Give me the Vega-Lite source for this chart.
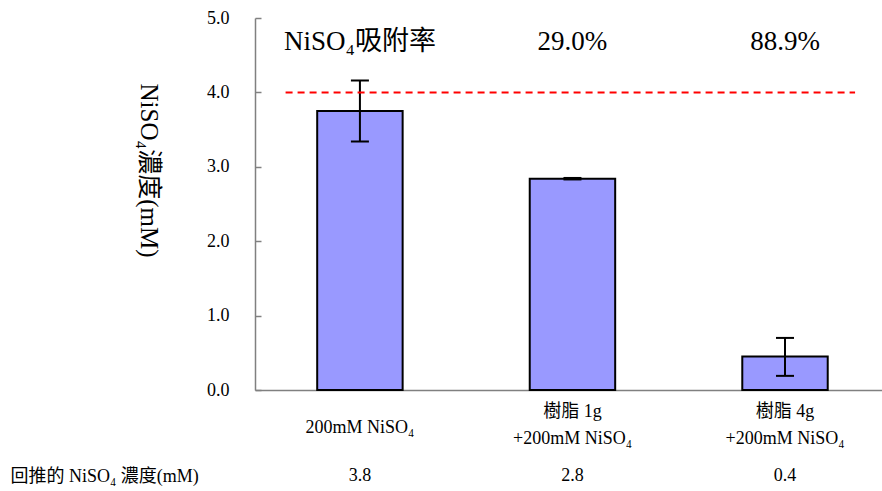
{
  "$schema": "https://vega.github.io/schema/vega-lite/v6.json",
  "width": 627,
  "height": 372,
  "autosize": {"type": "none"},
  "padding": {"left": 255, "top": 18, "right": 0, "bottom": 101},
  "background": "white",
  "config": {
    "view": {"stroke": null},
    "font": "'Liberation Serif', 'Noto Sans CJK TC'",
    "text": {"font": "'Liberation Serif', 'Noto Sans CJK TC'"},
    "axis": {"labelFont": "'Liberation Serif', 'Noto Sans CJK TC'", "titleFont": "'Liberation Serif', 'Noto Sans CJK TC'"}
  },
  "data": {"values": [
    {"cat": "200mM NiSO₄", "conc": 3.75, "lo": 3.34, "hi": 4.16, "rate": "NiSO₄吸附率", "back": "3.8"},
    {"cat": "樹脂 1g|+200mM NiSO₄", "conc": 2.84, "lo": 2.83, "hi": 2.85, "rate": "29.0%", "back": "2.8"},
    {"cat": "樹脂 4g|+200mM NiSO₄", "conc": 0.45, "lo": 0.19, "hi": 0.70, "rate": "88.9%", "back": "0.4"}
  ]},
  "encoding": {
    "x": {
      "field": "cat", "type": "nominal", "sort": null,
      "scale": {"paddingInner": 0.598, "paddingOuter": 0.274, "align": 0.534},
      "axis": {
        "title": "回推的 NiSO₄ 濃度(mM)",
        "titleX": -245, "titleY": 86, "titleAlign": "left", "titleBaseline": "middle", "titleAnchor": null,
        "titleFontSize": 18, "titleFontWeight": "normal", "titleColor": "#000",
        "labelExpr": "split(datum.label, '|')",
        "labelAngle": 0, "labelFontSize": 18, "labelColor": "#000", "labelBaseline": "middle",
        "labelPadding": {"condition": {"test": "indexof(datum.value, '|') < 0", "value": 37}, "value": 21},
        "labelLineHeight": 27,
        "ticks": false, "tickSize": 0,
        "domainColor": "#808080", "domainWidth": 1.5
      }
    }
  },
  "layer": [
    {
      "mark": {"type": "bar", "fill": "#9999FF", "stroke": "#000", "strokeWidth": 2},
      "encoding": {
        "y": {
          "field": "conc", "type": "quantitative",
          "scale": {"domain": [0, 5], "nice": false},
          "axis": {
            "values": [0, 1, 2, 3, 4, 5], "format": ".1f", "grid": false,
            "title": "NiSO₄濃度(mM)", "titleAngle": 90, "titleX": -107, "titleY": 152,
            "titleAlign": "center", "titleBaseline": "middle",
            "titleFontSize": 25, "titleFontWeight": "normal", "titleColor": "#000",
            "labelFontSize": 18, "labelColor": "#000", "labelPadding": 32,
            "tickSize": -6, "tickColor": "#808080", "tickWidth": 1.5,
            "domainColor": "#808080", "domainWidth": 1.5
          }
        }
      }
    },
    {
      "mark": {"type": "rule", "strokeWidth": 2, "color": "#000"},
      "encoding": {"y": {"field": "lo", "type": "quantitative"}, "y2": {"field": "hi"}}
    },
    {
      "mark": {"type": "tick", "orient": "horizontal", "size": 18, "thickness": 2, "color": "#000", "opacity": 1},
      "encoding": {"y": {"field": "lo", "type": "quantitative"}}
    },
    {
      "mark": {"type": "tick", "orient": "horizontal", "size": 18, "thickness": 2, "color": "#000", "opacity": 1},
      "encoding": {"y": {"field": "hi", "type": "quantitative"}}
    },
    {
      "data": {"values": [{"ref": 4.0}]},
      "mark": {"type": "rule", "color": "#FF0000", "strokeWidth": 2, "strokeDash": [7, 5]},
      "encoding": {
        "x": {"datum": "200mM NiSO₄", "bandPosition": -0.37},
        "x2": {"datum": "樹脂 4g|+200mM NiSO₄", "bandPosition": 1.32},
        "y": {"field": "ref", "type": "quantitative"}
      }
    },
    {
      "mark": {"type": "text", "fontSize": 27, "baseline": "middle", "color": "#000", "font": "'Liberation Serif', 'Noto Sans CJK TC'"},
      "encoding": {"text": {"field": "rate"}, "y": {"datum": 4.68}}
    },
    {
      "mark": {"type": "text", "fontSize": 18, "baseline": "middle", "color": "#000", "font": "'Liberation Serif', 'Noto Sans CJK TC'"},
      "encoding": {"text": {"field": "back"}, "y": {"datum": -1.156}}
    }
  ]
}
